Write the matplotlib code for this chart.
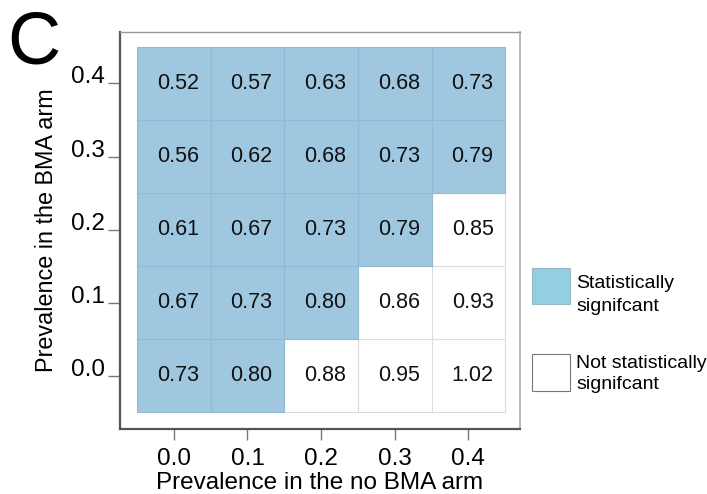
import matplotlib
matplotlib.use("Agg")
import matplotlib.pyplot as plt
from matplotlib.patches import Rectangle

plt.rcParams['font.family'] = ['Liberation Sans', 'DejaVu Sans']

x_prev = [0.0, 0.1, 0.2, 0.3, 0.4]          # no BMA arm
y_prev = [0.0, 0.1, 0.2, 0.3, 0.4]          # BMA arm
x_labels = ['0.0', '0.1', '0.2', '0.3', '0.4']
y_labels = ['0.0', '0.1', '0.2', '0.3', '0.4']
# values[row for y_prev][col for x_prev]
values = [
    [0.73, 0.80, 0.88, 0.95, 1.02],
    [0.67, 0.73, 0.80, 0.86, 0.93],
    [0.61, 0.67, 0.73, 0.79, 0.85],
    [0.56, 0.62, 0.68, 0.73, 0.79],
    [0.52, 0.57, 0.63, 0.68, 0.73],
]
significant = [
    [1, 1, 0, 0, 0],
    [1, 1, 1, 0, 0],
    [1, 1, 1, 1, 0],
    [1, 1, 1, 1, 1],
    [1, 1, 1, 1, 1],
]
legend_labels = ['Statistically\nsignifcant', 'Not statistically\nsignifcant']

SIG = '#a0c7e0'
SIG_EDGE = '#93bad4'
NS_EDGE = '#dcdcdc'

fig = plt.figure(figsize=(7.07, 4.94), dpi=100)
W, H = 707, 494
ax = fig.add_axes([120 / W, 1 - 429 / H, 400 / W, 397 / H])

step = 0.1
for i, yv in enumerate(y_prev):
    for j, xv in enumerate(x_prev):
        sig = significant[i][j]
        ax.add_patch(Rectangle((xv - step / 2, yv - step / 2), step, step,
                               facecolor=SIG if sig else 'white',
                               edgecolor=SIG_EDGE if sig else NS_EDGE,
                               linewidth=0.8, zorder=1 if sig else 0.5))
        ax.annotate(f'{values[i][j]:.2f}', (xv, yv), xytext=(3, 0),
                    textcoords='offset points', ha='center', va='center',
                    fontsize=15.5, color='#111111', zorder=3)

ax.set_xlim(-0.073, 0.470)
ax.set_ylim(-0.073, 0.4705)
ax.set_xticks(x_prev)
ax.set_xticklabels(x_labels)
ax.set_yticks(y_prev)
ax.set_yticklabels(y_labels)
ax.tick_params(axis='x', direction='out', length=8, width=1, color='#777777',
               pad=6, labelsize=17.5)
ax.tick_params(axis='y', direction='out', length=9, width=1, color='#777777',
               pad=2, labelsize=17.5)
for lab in ax.get_yticklabels():
    lab.set_verticalalignment('baseline')
ax.set_xlabel('Prevalence in the no BMA arm', fontsize=17.5, labelpad=1)
ax.set_ylabel('Prevalence in the BMA arm', fontsize=16.8, labelpad=9)

ax.spines['left'].set_color('#555555')
ax.spines['bottom'].set_color('#555555')
ax.spines['left'].set_linewidth(1.6)
ax.spines['bottom'].set_linewidth(1.6)
ax.spines['top'].set_color('#999999')
ax.spines['right'].set_color('#aaaaaa')
ax.spines['top'].set_linewidth(1.0)
ax.spines['right'].set_linewidth(1.2)

# Legend
fig.add_artist(Rectangle((532 / W, 1 - 304 / H), 38 / W, 36 / H,
                         transform=fig.transFigure, facecolor='#92cfe3',
                         edgecolor='#9ab8c4', linewidth=0.8))
fig.add_artist(Rectangle((532 / W, 1 - 391 / H), 38 / W, 37 / H,
                         transform=fig.transFigure, facecolor='white',
                         edgecolor='#777777', linewidth=0.8))
fig.text(576 / W, 1 - 295 / H, legend_labels[0], fontsize=14, va='center',
         ha='left', linespacing=1.45)
fig.text(576 / W, 1 - 374 / H, legend_labels[1], fontsize=14, va='center',
         ha='left', linespacing=1.35)

fig.text(7 / W, 1 - 44 / H, 'C', fontsize=53, va='center', ha='left')

fig.savefig('out.png', dpi=100)
